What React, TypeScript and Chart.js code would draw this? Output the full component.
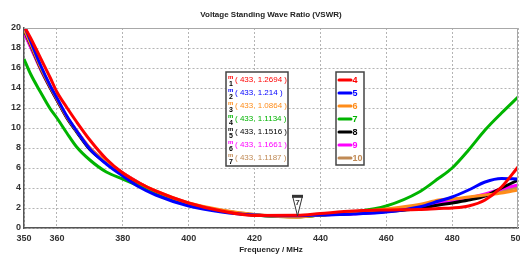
import React, { useEffect, useRef } from "react";
import { Chart, registerables } from "chart.js";

Chart.register(...registerables);

const TITLE = "Voltage Standing Wave Ratio (VSWR)";
const X_TITLE = "Frequency / MHz";
const X_TICKS = [350, 360, 380, 400, 420, 440, 460, 480, 500];
const Y_TICKS = [0, 2, 4, 6, 8, 10, 12, 14, 16, 18, 20];

const FREQS = [350, 352, 355, 358, 360, 363, 366, 370, 375, 380, 385, 390, 400, 410, 420, 433, 440, 450, 460, 470, 476, 480, 485, 490, 495, 500];

const VSWR_4 = [20.2, 19.0, 17.0, 15.0, 13.6, 12.05, 10.6, 8.8, 6.9, 5.5, 4.5, 3.7, 2.5, 1.7, 1.25, 1.2694, 1.45, 1.7, 1.8, 1.85, 1.95, 2.0, 2.2, 2.8, 4.1, 6.1];
const VSWR_5 = [20.3, 18.7, 16.3, 14.2, 13.0, 11.2, 9.7, 7.9, 6.4, 5.2, 4.1, 3.3, 2.2, 1.6, 1.3, 1.214, 1.3, 1.4, 1.6, 2.1, 2.7, 3.1, 3.8, 4.6, 4.95, 4.9];
const VSWR_6 = [19.9, 18.4, 16.1, 14.1, 12.9, 11.1, 9.7, 8.0, 6.6, 5.5, 4.5, 3.7, 2.5, 1.8, 1.35, 1.0864, 1.3, 1.6, 1.9, 2.35, 2.8, 2.9, 3.1, 3.3, 3.5, 3.8];
const VSWR_7 = [16.9, 15.4, 13.6, 11.9, 11.0, 9.5, 8.1, 6.8, 5.6, 4.9, 4.2, 3.5, 2.4, 1.7, 1.3, 1.1134, 1.3, 1.6, 2.2, 3.6, 5.0, 6.0, 7.8, 9.8, 11.5, 13.1];
const VSWR_8 = [19.8, 18.3, 16.0, 14.0, 12.8, 11.0, 9.6, 7.85, 6.5, 5.4, 4.4, 3.6, 2.4, 1.7, 1.3, 1.1516, 1.3, 1.45, 1.65, 1.95, 2.3, 2.5, 2.8, 3.2, 4.0, 4.8];
const VSWR_9 = [19.5, 18.1, 15.9, 14.0, 12.8, 11.1, 9.7, 8.0, 6.6, 5.5, 4.5, 3.6, 2.4, 1.7, 1.3, 1.1661, 1.3, 1.4, 1.65, 2.1, 2.5, 2.7, 3.0, 3.4, 3.9, 4.3];
const VSWR_10 = [19.6, 18.1, 15.9, 14.0, 12.8, 11.1, 9.7, 8.0, 6.6, 5.5, 4.5, 3.6, 2.45, 1.75, 1.35, 1.1187, 1.3, 1.55, 1.8, 2.2, 2.6, 2.8, 3.0, 3.3, 3.7, 4.1];

const SERIES_LABELS = ["4", "5", "6", "7", "8", "9", "10"];
const SERIES_VALUES = [VSWR_4, VSWR_5, VSWR_6, VSWR_7, VSWR_8, VSWR_9, VSWR_10];
const SERIES_COLORS = ["#ff0000", "#0000ff", "#ff8c1a", "#00b400", "#000000", "#ff00ff", "#c08a55"];

const MARKER_FREQ = 433;
const MARKER_VALUES = [1.2694, 1.214, 1.0864, 1.1134, 1.1516, 1.1661, 1.1187];
const MARKER_PIN_LABEL = "7";
const MARKER_PIN_VALUE = 1.1187;

const FONT = "'Liberation Sans Narrow', 'Liberation Sans', Arial, sans-serif";

const overlayPlugin = {
  id: "overlay",
  afterDraw(chart: any) {
    const ctx = chart.ctx as CanvasRenderingContext2D;
    const area = chart.chartArea;
    const xs = chart.scales.x;
    const ys = chart.scales.y;
    ctx.save();
    // chart area top/right border
    ctx.strokeStyle = "#a8a8a8";
    ctx.lineWidth = 1;
    ctx.beginPath();
    ctx.moveTo(area.left, area.top + 0.5);
    ctx.lineTo(area.right - 0.5, area.top + 0.5);
    ctx.lineTo(area.right - 0.5, area.bottom);
    ctx.stroke();

    // marker pin
    const px = Math.round(xs.getPixelForValue(MARKER_FREQ)) + 0.5;
    const py = ys.getPixelForValue(MARKER_PIN_VALUE) - 1;
    ctx.fillStyle = "#ffffff";
    ctx.strokeStyle = "#333333";
    ctx.lineWidth = 1;
    ctx.beginPath();
    ctx.moveTo(px - 5, py - 20);
    ctx.lineTo(px + 5, py - 20);
    ctx.lineTo(px, py);
    ctx.closePath();
    ctx.fill();
    ctx.stroke();
    ctx.fillStyle = "#333333";
    ctx.fillRect(px - 5.5, py - 21, 11, 3);
    ctx.font = `bold 8px ${FONT}`;
    ctx.textAlign = "center";
    ctx.textBaseline = "middle";
    ctx.fillText(MARKER_PIN_LABEL, px, py - 13);

    // marker value box
    const bx = 226, by = 72, bw = 62, bh = 94;
    ctx.fillStyle = "#ffffff";
    ctx.fillRect(bx, by, bw, bh);
    ctx.strokeStyle = "#444444";
    ctx.lineWidth = 1.5;
    ctx.strokeRect(bx, by, bw, bh);
    MARKER_VALUES.forEach((v, i) => {
      const ry = 80 + 13 * i;
      const col = SERIES_COLORS[i];
      ctx.textAlign = "left";
      ctx.textBaseline = "middle";
      ctx.fillStyle = col;
      ctx.font = `bold 6px ${FONT}`;
      ctx.fillText("m", 228, ry - 3);
      ctx.fillStyle = "#000000";
      ctx.font = `bold 7px ${FONT}`;
      ctx.fillText(String(i + 1), 229, ry + 4);
      ctx.fillStyle = col;
      ctx.font = `8px ${FONT}`;
      ctx.fillText(`( ${MARKER_FREQ}, ${v} )`, 235, ry);
    });

    // legend box
    const lx = 336, ly = 72, lw = 28, lh = 93;
    ctx.fillStyle = "#ffffff";
    ctx.fillRect(lx, ly, lw, lh);
    ctx.strokeStyle = "#444444";
    ctx.lineWidth = 1.5;
    ctx.strokeRect(lx, ly, lw, lh);
    SERIES_LABELS.forEach((lab, i) => {
      const ry = 80 + 13 * i;
      const col = SERIES_COLORS[i];
      ctx.strokeStyle = col;
      ctx.lineWidth = 3;
      ctx.lineCap = "round";
      ctx.beginPath();
      ctx.moveTo(339, ry);
      ctx.lineTo(351, ry);
      ctx.stroke();
      ctx.fillStyle = col;
      ctx.font = `bold 9px ${FONT}`;
      ctx.textAlign = "left";
      ctx.textBaseline = "middle";
      ctx.fillText(lab, 352.5, ry + 0.5);
    });
    ctx.restore();
  },
};

export default function App() {
  const ref = useRef<HTMLCanvasElement | null>(null);
  useEffect(() => {
    if (!ref.current) return;
    const datasets = SERIES_VALUES.map((vals, i) => ({
      label: SERIES_LABELS[i],
      data: FREQS.map((f, j) => ({ x: f, y: vals[j] })),
      borderColor: SERIES_COLORS[i],
      backgroundColor: SERIES_COLORS[i],
      borderWidth: 3,
      pointRadius: 0,
      cubicInterpolationMode: "monotone" as const,
      fill: false,
    }));
    const chart = new Chart(ref.current, {
      type: "line",
      data: { datasets },
      options: {
        animation: false,
        responsive: false,
        devicePixelRatio: 1,
        layout: { padding: { left: 0, right: 2, top: 0, bottom: 0 } },
        plugins: {
          legend: { display: false },
          tooltip: { enabled: false },
          title: {
            display: true,
            text: TITLE,
            fullSize: false,
            color: "#222222",
            font: { family: FONT, size: 8, weight: "bold", lineHeight: 1.2 },
            padding: { top: 10, bottom: 8.4 },
          },
        },
        scales: {
          x: {
            type: "linear",
            min: 350,
            max: 500,
            afterBuildTicks: (s: any) => {
              s.ticks = X_TICKS.map((v) => ({ value: v }));
            },
            afterFit: (s: any) => {
              s.height = 28;
              s.paddingLeft = 0;
              s.paddingRight = 0;
            },
            ticks: {
              autoSkip: false,
              maxRotation: 0,
              padding: 5,
              color: "#333333",
              font: { family: FONT, size: 9, weight: "bold" },
            },
            grid: {
              color: "#b4b4b4",
              drawTicks: false,
            },
            border: { display: true, color: "#555555", width: 1.5, dash: [2, 2] },
            title: {
              display: true,
              text: X_TITLE,
              color: "#222222",
              font: { family: FONT, size: 8, weight: "bold" },
              padding: { top: 0, bottom: 1 },
            },
          },
          y: {
            type: "linear",
            min: 0,
            max: 20,
            afterBuildTicks: (s: any) => {
              s.ticks = Y_TICKS.map((v) => ({ value: v }));
            },
            afterFit: (s: any) => {
              s.width = 24;
              s.paddingTop = 0;
              s.paddingBottom = 0;
            },
            ticks: {
              padding: 3,
              color: "#333333",
              font: { family: FONT, size: 9, weight: "bold" },
            },
            grid: { color: "#b4b4b4", drawTicks: false },
            border: { display: true, color: "#555555", width: 1.5, dash: [2, 2] },
          },
        },
      },
      plugins: [overlayPlugin],
    });
    return () => chart.destroy();
  }, []);
  return (
    <div style={{ position: "absolute", left: 0, top: 0, width: 520, height: 256, background: "#fff" }}>
      <canvas ref={ref} width={520} height={256} />
    </div>
  );
}
